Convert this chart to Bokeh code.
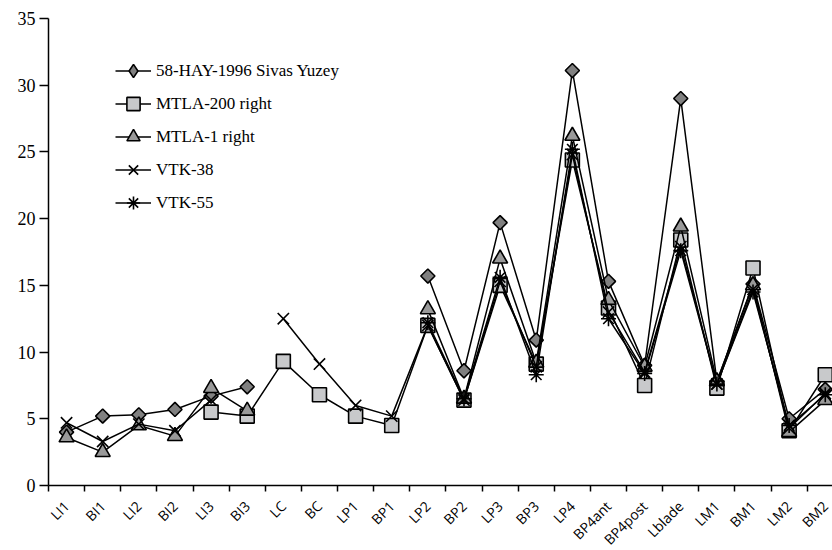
import math
from bokeh.plotting import figure
from bokeh.models import (Range1d, FixedTicker, CustomJSTickFormatter, Legend, LegendItem)
from bokeh.core.properties import value
from bokeh.embed import file_html
from bokeh.resources import INLINE

nan = float("nan")

categories = ["LI1", "BI1", "LI2", "BI2", "LI3", "BI3", "LC", "BC", "LP1", "BP1",
              "LP2", "BP2", "LP3", "BP3", "LP4", "BP4ant", "BP4post", "Lblade",
              "LM1", "BM1", "LM2", "BM2"]

hay_1996 = [4.0, 5.2, 5.3, 5.7, 6.7, 7.4, nan, nan, nan, nan,
            15.7, 8.6, 19.7, 10.9, 31.1, 15.3, 9.0, 29.0, 7.8, 15.1, 5.0, 7.2]
mtla_200 = [nan, nan, nan, nan, 5.5, 5.2, 9.3, 6.8, 5.2, 4.5,
            12.0, 6.4, 15.0, 9.1, 24.4, 13.3, 7.5, 18.4, 7.3, 16.3, 4.1, 8.3]
mtla_1 = [3.6, 2.5, 4.5, 3.7, 7.3, 5.6, nan, nan, nan, nan,
          13.2, 6.5, 17.0, 9.2, 26.2, 13.9, 8.9, 19.4, 7.8, 15.0, 4.0, 6.4]
vtk_38 = [4.7, 3.3, 4.6, 4.1, 6.4, nan, 12.5, 9.1, 6.0, 5.2,
          12.0, 6.4, 15.3, 8.9, 24.8, 13.0, 8.5, 17.9, 7.6, 14.7, 4.3, 6.9]
vtk_55 = [nan, nan, nan, nan, nan, nan, nan, nan, nan, nan,
          12.2, 6.5, 15.6, 8.3, 25.2, 12.5, 8.4, 17.6, 7.6, 14.5, 4.5, 6.8]

series_names = ["58-HAY-1996 Sivas Yuzey", "MTLA-200 right", "MTLA-1 right", "VTK-38", "VTK-55"]
y_ticks = [0, 5, 10, 15, 20, 25, 30, 35]

xs = [i + 0.5 for i in range(len(categories))]

p = figure(width=832, height=550, output_backend="svg", toolbar_location=None,
           x_range=Range1d(0, 21.7), y_range=Range1d(0, 35),
           min_border_left=48, min_border_top=18, min_border_right=0, min_border_bottom=65)
p.outline_line_color = None
p.xgrid.grid_line_color = None
p.ygrid.grid_line_color = None
p.background_fill_color = "white"
p.border_fill_color = "white"

# Y axis
p.yaxis.ticker = FixedTicker(ticks=y_ticks)
p.yaxis.major_tick_out = 9
p.yaxis.major_tick_in = 0
p.yaxis.minor_tick_out = 0
p.yaxis.axis_line_width = 1.5
p.yaxis.axis_line_color = "black"
p.yaxis.major_tick_line_width = 1.5
p.yaxis.major_tick_line_color = "black"
p.yaxis.major_label_text_font = "Liberation Serif"
p.yaxis.major_label_text_font_size = "18px"
p.yaxis.major_label_text_color = "black"
p.yaxis.major_label_standoff = 4

# X axis: ticks between categories, labels drawn as rotated text below
p.xaxis.ticker = FixedTicker(ticks=xs, minor_ticks=list(range(len(categories) + 1)))
p.xaxis.formatter = CustomJSTickFormatter(code="return '';")
p.xaxis.major_tick_out = 0
p.xaxis.major_tick_in = 0
p.xaxis.minor_tick_out = 6
p.xaxis.minor_tick_in = 0
p.xaxis.minor_tick_line_width = 1.5
p.xaxis.minor_tick_line_color = "black"
p.xaxis.axis_line_width = 1.5
p.xaxis.axis_line_color = "black"

p.text(x=xs, y=[0] * len(categories), text=categories, angle=math.pi / 4,
       x_offset=0, y_offset=18, text_align="right", text_baseline="middle",
       text_font=value("Open Sans"), text_font_size="14px", text_color="black",
       level="overlay")

styles = [
    dict(marker="square", size=10, angle=math.pi / 4, fill_color="#808080"),
    dict(marker="square", size=14, angle=0, fill_color="#c8c9cb"),
    dict(marker="triangle", size=15, angle=0, fill_color="#999999"),
    dict(marker="x", size=16, angle=0, fill_color=None),
    dict(marker="asterisk", size=15, angle=0, fill_color=None),
]
data = [hay_1996, mtla_200, mtla_1, vtk_38, vtk_55]

items = []
for k, (name, ys, st) in enumerate(zip(series_names, data, styles)):
    ln = p.line(xs, ys, line_color="black", line_width=1.5)
    sc = p.scatter(xs, ys, marker=st["marker"], size=st["size"], angle=st["angle"],
                   fill_color=st["fill_color"], line_color="black", line_width=1.6)
    if k == 0:
        # legend sample: diamond key (the plotted diamonds are rotated squares)
        key = p.scatter([nan], [nan], marker="diamond", size=14,
                        fill_color=st["fill_color"], line_color="black", line_width=1.6)
        items.append(LegendItem(label=name, renderers=[ln, key], index=0))
    else:
        items.append(LegendItem(label=name, renderers=[ln, sc]))

legend = Legend(items=items, location=(67, 266))
legend.border_line_color = None
legend.background_fill_alpha = 0
legend.padding = 0
legend.margin = 0
legend.spacing = 0
legend.glyph_width = 36
legend.glyph_height = 33
legend.label_height = 33
legend.label_standoff = 5
legend.label_text_font = "Liberation Serif"
legend.label_text_font_size = "17px"
legend.label_text_color = "black"
p.add_layout(legend)

open("out.html", "w").write(file_html(p, INLINE))
